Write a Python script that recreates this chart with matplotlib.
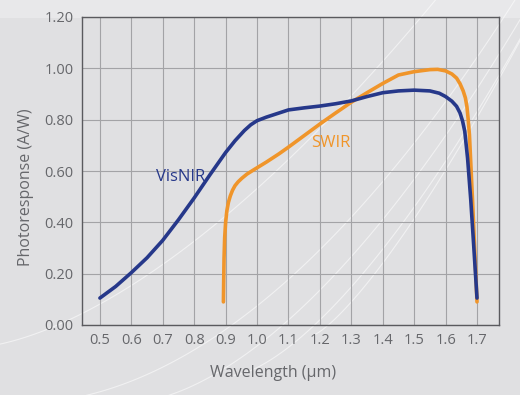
import numpy as np
import matplotlib
matplotlib.use("Agg")
import matplotlib.pyplot as plt
from matplotlib.lines import Line2D

# VisNIR photoresponse
visnir_wl = [0.50, 0.55, 0.60, 0.65, 0.70, 0.75, 0.80, 0.85, 0.90, 0.93, 0.96, 0.98,
             1.00, 1.03, 1.06, 1.10, 1.15, 1.20, 1.25, 1.30, 1.35, 1.40, 1.45, 1.50,
             1.55, 1.58, 1.60, 1.62, 1.635, 1.646, 1.654, 1.661, 1.67, 1.68, 1.69,
             1.70]
visnir_resp = [0.105, 0.150, 0.204, 0.262, 0.330, 0.410, 0.495, 0.585, 0.672, 0.718,
               0.758, 0.780, 0.796, 0.810, 0.822, 0.838, 0.846, 0.853, 0.862, 0.873,
               0.890, 0.905, 0.912, 0.915, 0.912, 0.903, 0.890, 0.872, 0.852, 0.826,
               0.795, 0.755, 0.650, 0.490, 0.300, 0.105]

# SWIR photoresponse
swir_wl = [0.893, 0.894, 0.895, 0.897, 0.900, 0.904, 0.909, 0.915, 0.922, 0.930,
           0.940, 0.952, 0.968, 0.990, 1.03, 1.07, 1.10, 1.15, 1.20, 1.25, 1.30,
           1.35, 1.40, 1.45, 1.50, 1.55, 1.575, 1.60, 1.62, 1.635, 1.646, 1.656,
           1.663, 1.668, 1.672, 1.676, 1.686, 1.700]
swir_resp = [0.090, 0.180, 0.260, 0.340, 0.400, 0.445, 0.478, 0.503, 0.525, 0.543,
             0.558, 0.572, 0.588, 0.605, 0.635, 0.667, 0.693, 0.738, 0.783, 0.826,
             0.868, 0.905, 0.941, 0.974, 0.987, 0.995, 0.996, 0.990, 0.978, 0.962,
             0.940, 0.912, 0.885, 0.850, 0.800, 0.740, 0.480, 0.090]

x_ticks = [0.5, 0.6, 0.7, 0.8, 0.9, 1.0, 1.1, 1.2, 1.3, 1.4, 1.5, 1.6, 1.7]
y_ticks = [0.0, 0.2, 0.4, 0.6, 0.8, 1.0, 1.2]

bg = "#e0e0e2"
navy = "#26388a"
orange = "#f0952a"
text_gray = "#66676b"

plt.rcParams['font.family'] = ['Open Sans', 'DejaVu Sans']

fig = plt.figure(figsize=(5.2, 3.95), dpi=100, facecolor=bg)

# lighter band at the very top of the background
fig.add_artist(plt.Rectangle((0, 0.955), 1, 0.045, transform=fig.transFigure,
                             color="#e8e8ea", lw=0, zorder=0))

# faint decorative white arcs in the background
t = np.linspace(0, 1, 100)
for x0, x1, y0, y1, p in [(-0.05, 0.85, 0.12, 1.02, 1.6), (0.05, 1.0, -0.02, 1.02, 1.9),
                          (0.25, 1.0, -0.02, 0.95, 1.7), (0.45, 1.05, 0.05, 1.02, 1.5),
                          (0.6, 1.05, 0.15, 1.02, 1.3)]:
    fig.add_artist(Line2D(x0 + (x1 - x0) * t, y0 + (y1 - y0) * t ** p,
                          color="white", lw=0.8, alpha=0.55, zorder=0))

ax = fig.add_axes([82 / 520, 1 - 325 / 395, (499 - 82) / 520, (325 - 17) / 395])
ax.set_facecolor("none")

ax.plot(visnir_wl, visnir_resp, color=navy, lw=2.6, solid_capstyle="round",
        solid_joinstyle="round", zorder=3)
ax.plot(swir_wl, swir_resp, color=orange, lw=2.6, solid_capstyle="round",
        solid_joinstyle="round", zorder=2)

ax.text(0.757, 0.575, "VisNIR", color=navy, fontsize=12, ha="center", va="center")
ax.text(1.236, 0.71, "SWIR", color=orange, fontsize=12, ha="center", va="center")

ax.set_xlim(0.443, 1.77)
ax.set_ylim(0, 1.2)
ax.set_xticks(x_ticks)
ax.set_xticklabels([f"{v:.1f}" for v in x_ticks])
ax.set_yticks(y_ticks)
ax.set_yticklabels([f"{v:.2f}" for v in y_ticks])
ax.tick_params(length=0, labelsize=10.5, labelcolor=text_gray, pad=6)
ax.grid(True, color="#a3a3a6", lw=0.8)
ax.set_axisbelow(True)
for s in ax.spines.values():
    s.set_color("#5a5a5e")
    s.set_linewidth(1.0)

ax.set_xlabel("Wavelength (µm)", fontsize=11.5, color=text_gray)
ax.xaxis.set_label_coords(0.458, -0.13)
ax.set_ylabel("Photoresponse (A/W)", fontsize=11.5, color=text_gray)
ax.yaxis.set_label_coords(-0.115, 0.446)

fig.savefig("out.png", dpi=100, facecolor=bg)
